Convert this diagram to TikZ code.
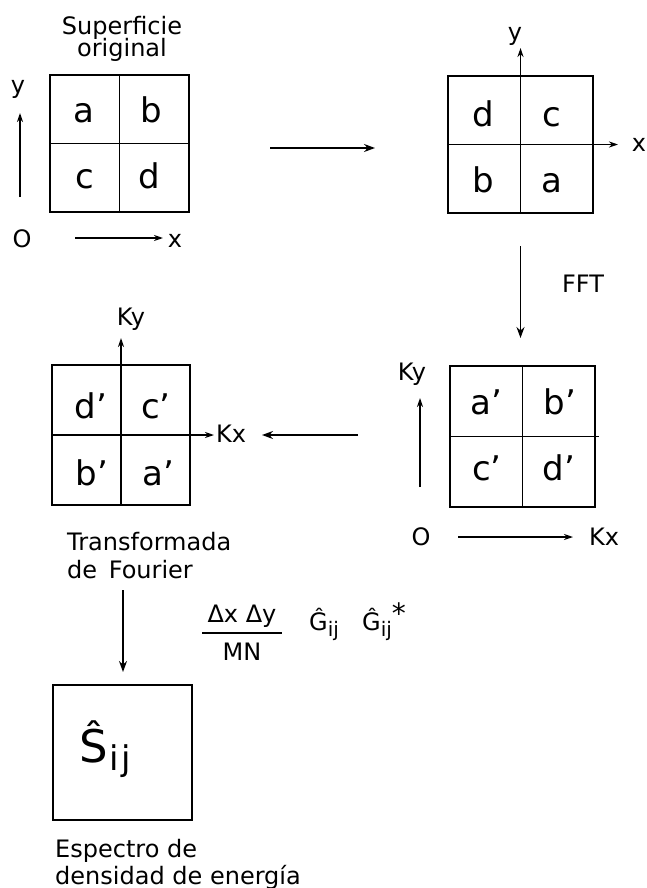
\documentclass[tikz,border=0pt]{standalone}
\usepackage{fontspec}
\setmainfont{DejaVu Sans}
\usetikzlibrary{arrows.meta}
\begin{document}
\begin{tikzpicture}[x=1pt,y=-1pt,
  box/.style={draw, line width=1.8pt, inner sep=0pt, minimum width=#1},
  cell/.style={font=\fontsize{34}{40}\selectfont, inner sep=0pt, anchor=base},
  lbl/.style={font=\fontsize{24}{27}\selectfont, inner sep=0pt, anchor=base},
  grid/.style={line width=1.6pt},
  arr/.style={line width=1.5pt, -{Stealth[length=11pt,width=8pt]}},
  axarr/.style={line width=1.5pt, -{Stealth[length=9pt,width=6pt]}},
]
\useasboundingbox (0,0) rectangle (647,888);

% ---------- Box A: original surface ----------
\node[box=139pt, minimum height=137pt] (A) at (119.5,143.5) {};
\draw[grid] (A.north) -- (A.south) (A.west) -- (A.east);
\node[cell] (Aa) at (84,122) {a};
\node[cell] (Ab) at (151,122) {b};
\node[cell] (Ac) at (85,188) {c};
\node[cell] (Ad) at (149,188) {d};
\node[lbl] (Atitle) at (122,35) {Superficie};
\node[lbl] (Atitle2) at (122,57) {original};
\coordinate (Ay0) at (20,197);
\coordinate (Ay1) at (20,113);
\draw[axarr] (Ay0) -- (Ay1);
\node[lbl] (Aylab) at (18,94) {y};
\node[lbl] (AO) at (22,247) {O};
\coordinate (Ax0) at (75,238);
\coordinate (Ax1) at (163,238);
\draw[axarr] (Ax0) -- (Ax1);
\node[lbl] (Axlab) at (175,247) {x};

% ---------- arrow A -> B ----------
\coordinate (ab0) at (270,148);
\coordinate (ab1) at (375,148);
\draw[arr] (ab0) -- (ab1);

% ---------- Box B: shifted surface ----------
\node[box=145pt, minimum height=137pt] (B) at (520.5,144.5) {};
\coordinate (By) at (520.5,48);
\coordinate (Bx) at (618,144.5);
\draw[axarr] (B.south) -- (By);
\draw[axarr] (B.west) -- (Bx);
\node[cell] (Bd) at (483,127) {d};
\node[cell] (Bc) at (552,127) {c};
\node[cell] (Bb) at (483,192) {b};
\node[cell] (Ba) at (552,192) {a};
\node[lbl] (Bylab) at (515,41) {y};
\node[lbl] (Bxlab) at (639,151) {x};

% ---------- FFT arrow ----------
\coordinate (f0) at (520.5,246);
\coordinate (f1) at (520.5,338);
\draw[arr] (f0) -- (f1);
\node[lbl] (FFT) at (583,292) {FFT};

% ---------- Box C: FFT result ----------
\node[box=145pt, minimum height=141pt] (C) at (522.5,436.5) {};
\draw[grid] (C.north) -- (C.south) (C.west) -- ([xshift=3pt]C.east);
\node[cell] (Ca) at (486,414) {a’};
\node[cell] (Cb) at (560,414) {b’};
\node[cell] (Cc) at (487,480) {c’};
\node[cell] (Cd) at (559,480) {d’};
\node[lbl] (CKy) at (412,380) {Ky};
\coordinate (Cy0) at (420,487);
\coordinate (Cy1) at (420,398);
\draw[axarr] (Cy0) -- (Cy1);
\node[lbl] (CO) at (421,545) {O};
\coordinate (Cx0) at (458,537);
\coordinate (Cx1) at (573,537);
\draw[axarr] (Cx0) -- (Cx1);
\node[lbl] (CKx) at (604,545) {Kx};

% ---------- arrow C -> D ----------
\coordinate (cd0) at (358,435);
\coordinate (cd1) at (262,435);
\draw[arr] (cd0) -- (cd1);

% ---------- Box D: Fourier transform ----------
\node[box=138pt, minimum height=140pt] (D) at (121,435) {};
\coordinate (Dy) at (121,338);
\coordinate (Dx) at (214,435);
\draw[axarr] (D.south) -- (Dy);
\draw[axarr] (D.west) -- (Dx);
\node[cell] (Dd) at (91,418) {d’};
\node[cell] (Dc) at (156,418) {c’};
\node[cell] (Db) at (92,485) {b’};
\node[cell] (Da) at (158,485) {a’};
\node[lbl] (DKy) at (131,325) {Ky};
\node[lbl, anchor=base west] (DKx) at (216,442) {Kx};
\node[lbl, anchor=base west] (Dt1) at (67,550) {Transformada};
\node[lbl, anchor=base west] (Dt2) at (67,578) {de\, Fourier};

% ---------- arrow D -> E ----------
\coordinate (de0) at (123,590);
\coordinate (de1) at (123,672);
\draw[arr] (de0) -- (de1);
\node[lbl] (num) at (242,622) {Δx Δy};
\node[lbl] (den) at (242,660) {MN};
\coordinate (fl) at (202,633);
\coordinate (fr) at (282,633);
\draw[line width=1.5pt] (fl) -- (fr);
\node[lbl, anchor=base west] (G1) at (309,630) {Ĝ\raisebox{-6pt}{\fontsize{20}{20}\selectfont ij}};
\node[lbl, anchor=base west] (G2) at (362,630) {Ĝ\raisebox{-6pt}{\fontsize{20}{20}\selectfont ij}\raisebox{7pt}{\fontsize{28}{28}\selectfont *}};

% ---------- Box E: energy density spectrum ----------
\node[box=139pt, minimum height=135pt] (E) at (122.5,752.5) {};
\node[anchor=base west, inner sep=0pt, font=\fontsize{45}{50}\selectfont] (S) at (79,762) {Ŝ\kern2pt\raisebox{-8pt}{\fontsize{34}{34}\selectfont i\kern2pt j}};
\node[lbl, anchor=base west] (Et1) at (55,857) {Espectro de};
\node[lbl, anchor=base west] (Et2) at (55,884) {densidad de energía};
\end{tikzpicture}
\end{document}
